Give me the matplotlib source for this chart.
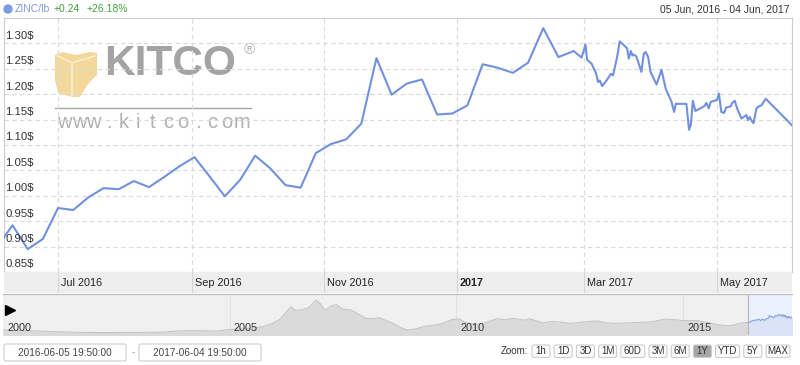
import numpy as np
import pandas as pd
import matplotlib
matplotlib.use("Agg")
import matplotlib.pyplot as plt
import matplotlib.transforms as mtransforms
from matplotlib.patches import Polygon, Circle, FancyBboxPatch
from matplotlib.lines import Line2D

plt.rcParams['font.family'] = ['Liberation Sans', 'DejaVu Sans']

# zinc price, USD/lb (weekly until late Feb 2017, then daily)
zinc_dates = [
    '2016-06-03', '2016-06-10', '2016-06-17', '2016-06-24', '2016-07-01', '2016-07-08',
    '2016-07-15', '2016-07-22', '2016-07-29', '2016-08-05', '2016-08-12', '2016-08-19',
    '2016-08-26', '2016-09-02', '2016-09-09', '2016-09-16', '2016-09-23', '2016-09-30',
    '2016-10-07', '2016-10-14', '2016-10-21', '2016-10-28', '2016-11-04', '2016-11-11',
    '2016-11-18', '2016-11-25', '2016-12-02', '2016-12-09', '2016-12-16', '2016-12-23',
    '2016-12-30', '2017-01-06', '2017-01-13', '2017-01-20', '2017-01-27', '2017-02-03',
    '2017-02-10', '2017-02-17', '2017-02-24',
    '2017-02-27 17:00', '2017-03-01 12:00', '2017-03-02 05:00', '2017-03-04 07:00',
    '2017-03-06 07:00', '2017-03-07 07:00', '2017-03-08 02:00', '2017-03-09 05:00',
    '2017-03-11 05:00', '2017-03-13 05:00', '2017-03-14 05:00', '2017-03-16 02:00',
    '2017-03-17 07:00', '2017-03-19 14:00', '2017-03-20 17:00', '2017-03-21 12:00',
    '2017-03-22 10:00', '2017-03-23 05:00', '2017-03-23 22:00', '2017-03-25 00:00',
    '2017-03-26 02:00', '2017-03-27 07:00', '2017-03-28 10:00', '2017-03-29 07:00',
    '2017-03-30 10:00', '2017-03-31 12:00', '2017-04-03 07:00', '2017-04-05 14:00',
    '2017-04-07 12:00', '2017-04-10 05:00', '2017-04-11 10:00', '2017-04-12 05:00',
    '2017-04-17 02:00', '2017-04-18 07:00', '2017-04-19 02:00', '2017-04-20 02:00',
    '2017-04-21 05:00', '2017-04-23 12:00', '2017-04-25 12:00', '2017-04-26 07:00',
    '2017-04-27 10:00', '2017-04-28 07:00', '2017-04-30 02:00', '2017-05-01 05:00',
    '2017-05-02 02:00', '2017-05-03 05:00', '2017-05-04 10:00', '2017-05-05 12:00',
    '2017-05-07 12:00', '2017-05-08 07:00', '2017-05-09 10:00', '2017-05-10 10:00',
    '2017-05-12 12:00', '2017-05-14 19:00', '2017-05-15 12:00', '2017-05-16 07:00',
    '2017-05-17 07:00', '2017-05-18 02:00', '2017-05-19 10:00', '2017-05-20 02:00',
    '2017-05-21 17:00', '2017-05-23 17:00', '2017-06-04 19:00',
]
zinc_prices = [
    0.900, 0.942, 0.895, 0.915, 0.976, 0.972,
    0.997, 1.015, 1.013, 1.029, 1.017, 1.037,
    1.058, 1.076, 1.038, 0.999, 1.031, 1.079,
    1.054, 1.021, 1.016, 1.084, 1.102, 1.111,
    1.142, 1.271, 1.199, 1.221, 1.229, 1.160,
    1.162, 1.178, 1.259, 1.252, 1.242, 1.262,
    1.330, 1.273, 1.285,
    1.272, 1.298, 1.268, 1.260,
    1.242, 1.224, 1.227, 1.216,
    1.227, 1.240, 1.237, 1.273,
    1.304, 1.295, 1.290, 1.270,
    1.285, 1.276, 1.278, 1.274,
    1.260, 1.244, 1.280, 1.283,
    1.273, 1.244, 1.219, 1.248,
    1.211, 1.185, 1.165, 1.181,
    1.181, 1.130, 1.139, 1.187,
    1.167, 1.172, 1.177, 1.183,
    1.172, 1.185, 1.187, 1.189,
    1.201, 1.165, 1.163, 1.174,
    1.176, 1.183, 1.187, 1.173,
    1.152, 1.159, 1.149, 1.155,
    1.147, 1.143, 1.172, 1.175,
    1.178, 1.191, 1.139,
]

y_ticks = [0.85, 0.90, 0.95, 1.00, 1.05, 1.10, 1.15, 1.20, 1.25, 1.30]
x_ticks = ['2016-07-01', '2016-09-01', '2016-11-01', '2017-01-01', '2017-03-01', '2017-05-01']
x_labels = ['Jul 2016', 'Sep 2016', 'Nov 2016', '2017', 'Mar 2017', 'May 2017']
range_start = '2016-06-05 19:50'
range_end = '2017-06-04 19:50'

# long-term history shown in the navigator (decimal years, USD/lb)
nav_years = [2000.0, 2000.5, 2001.0, 2001.5, 2002.0, 2002.5, 2003.0, 2003.5, 2003.9, 2004.3,
             2004.7, 2005.0, 2005.4, 2005.7, 2005.9, 2006.1, 2006.25, 2006.35, 2006.45, 2006.6,
             2006.75, 2006.9, 2007.0, 2007.1, 2007.25, 2007.35, 2007.5, 2007.65, 2007.8, 2008.0,
             2008.15, 2008.3, 2008.45, 2008.6, 2008.75, 2008.9, 2009.1, 2009.3, 2009.5, 2009.7,
             2009.9, 2010.05, 2010.2, 2010.4, 2010.55, 2010.75, 2010.9, 2011.1, 2011.25, 2011.5,
             2011.6, 2011.75, 2011.9, 2012.1, 2012.3, 2012.5, 2012.7, 2012.9, 2013.1, 2013.3,
             2013.5, 2013.8, 2014.0, 2014.3, 2014.6, 2014.8, 2015.0, 2015.3, 2015.5, 2015.7,
             2015.95, 2016.1, 2016.3, 2016.43]
nav_prices = [0.50, 0.47, 0.42, 0.38, 0.36, 0.36, 0.37, 0.38, 0.45, 0.46,
              0.44, 0.52, 0.58, 0.66, 0.80, 1.05, 1.45, 1.73, 1.55, 1.58,
              1.70, 2.10, 1.90, 1.55, 1.80, 1.85, 1.60, 1.58, 1.40, 1.12,
              1.10, 1.15, 1.00, 0.85, 0.65, 0.50, 0.55, 0.70, 0.75, 0.85,
              1.05, 1.10, 0.90, 0.80, 0.82, 0.98, 1.10, 1.05, 1.12, 1.02,
              1.10, 1.00, 0.88, 0.95, 0.92, 0.85, 0.90, 0.95, 0.98, 0.88,
              0.85, 0.88, 0.90, 0.93, 1.08, 1.05, 1.00, 1.00, 0.92, 0.80,
              0.72, 0.75, 0.88, 0.90]
nav_ticks = [2000, 2005, 2010, 2015]

zoom_buttons = ['1h', '1D', '3D', '1M', '60D', '3M', '6M', '1Y', 'YTD', '5Y', 'MAX']
active_button = '1Y'

W, H = 800, 365
fig = plt.figure(figsize=(8, 3.65), dpi=100)
# pixel coordinates, origin top-left
px = mtransforms.Affine2D().scale(1 / W, -1 / H).translate(0, 1) + fig.transFigure

line_color = '#7191df'
grid_color = '#dadada'
text_color = '#333333'

dates = pd.to_datetime(zinc_dates, format='mixed')
x0, x1 = pd.Timestamp(range_start), pd.Timestamp(range_end)

# main chart
ax = fig.add_axes([3.5 / W, 1 - 272 / H, (792 - 3.5) / W, (272 - 18) / H])
ax.plot(dates, zinc_prices, color=line_color, lw=1.5, solid_joinstyle='round', zorder=5)
ax.set_xlim(x0, x1)
ax.set_ylim(0.85, 1.35)
ax.set_yticks(y_ticks)
ax.set_xticks(pd.to_datetime(x_ticks))
ax.grid(True, color=grid_color, linestyle=(0, (4, 3)), linewidth=0.8)
ax.tick_params(length=0, labelleft=False, labelbottom=False)
for s in ax.spines.values():
    s.set_color('#cccccc')
    s.set_linewidth(0.8)

ytrans = mtransforms.offset_copy(ax.get_yaxis_transform(), fig=fig, x=2, y=2.5, units='dots')
for v in y_ticks:
    ax.text(0, v, f'{v:.2f}$', transform=ytrans, ha='left', va='bottom',
            fontsize=8.2, color=text_color, zorder=6)

# kitco watermark
logo = Polygon([(55, 55), (63, 52), (76, 55), (90, 52), (97, 53), (97, 75), (88, 84),
                (80, 97), (72, 97), (58, 93), (55, 80)], closed=True,
               facecolor='#f3d89c', edgecolor='none', transform=px, zorder=1)
ax.add_patch(logo)
ax.add_line(Line2D([58, 72, 95], [56, 63, 56], color='#fbeccb', lw=1.2, transform=px, zorder=1))
ax.add_line(Line2D([72, 72], [63, 96], color='#fbeccb', lw=1.2, transform=px, zorder=1))
ax.text(104, 64, 'KITCO', transform=px, fontsize=30.5, fontweight='bold', color='#a4a4a4',
        ha='left', va='center', zorder=1)
ax.text(249, 50, '®', transform=px, fontsize=11, color='#b4b4b4', ha='center', va='center', zorder=1)
ax.add_line(Line2D([55, 251], [108, 108], color='#a8a8a8', lw=1, transform=px, zorder=1))
for ch, cx in zip('www.kitco.com', np.linspace(64, 242, 13)):
    ax.text(cx, 123, ch, transform=px, fontsize=14.5, color='#b0b0b0', ha='center', va='center', zorder=1)

# x-axis band
axb = fig.add_axes([3.5 / W, 1 - 293 / H, (792 - 3.5) / W, 21 / H], sharex=ax)
axb.set_facecolor('#eeeeee')
axb.set_ylim(0, 1)
axb.tick_params(length=0, labelleft=False, labelbottom=False)
for s in axb.spines.values():
    s.set_visible(False)
xtrans = mtransforms.offset_copy(axb.get_xaxis_transform(), fig=fig, x=3, y=0, units='dots')
for t, lab in zip(pd.to_datetime(x_ticks), x_labels):
    axb.axvline(t, color='#d6d6d6', lw=0.8)
    axb.text(t, 0.5, lab, transform=xtrans, ha='left', va='center', fontsize=7.8,
             color='#222222', fontweight='bold' if lab == '2017' else 'normal')

# navigator
axn = fig.add_axes([3 / W, 1 - 335 / H, (792 - 3) / W, 41 / H])
axn.set_facecolor('#f0f0f0')
axn.set_xlim(2000.0, 2017.4)
axn.set_ylim(0.23, 2.42)
for y in nav_ticks[1:]:
    axn.axvline(y, color='#e2e2e2', lw=0.8, zorder=0)
axn.fill_between(nav_years, nav_prices, 0, color='#dadada', lw=0)
axn.plot(nav_years, nav_prices, color='#c6c6c6', lw=0.8)
dec = np.asarray(dates.year + (dates.dayofyear - 1 + dates.hour / 24) / 365.25)
sel = 2016 + (x0.dayofyear - 1) / 366
axn.axvspan(sel, 2017.4, color='#eaf0fc', lw=0, zorder=1)
axn.fill_between(dec, zinc_prices, 0, color='#dbe3f6', lw=0, zorder=2)
axn.plot(dec, zinc_prices, color='#8fa6e3', lw=0.9, zorder=3)
axn.axvline(sel, color='#b8b8b8', lw=0.8, zorder=4)
axn.tick_params(length=0, labelleft=False, labelbottom=False)
for k, s in axn.spines.items():
    s.set_visible(k == 'top')
axn.spines['top'].set_color('#b9b9b9')
ntrans = mtransforms.offset_copy(axn.get_xaxis_transform(), fig=fig, x=4, y=2, units='dots')
for y in nav_ticks:
    axn.text(y, 0, str(y), transform=ntrans, ha='left', va='bottom', fontsize=7.8, color=text_color)
fig.add_artist(Line2D([10], [310], marker='>', ms=7, color='black', transform=px))

# header
fig.add_artist(Circle((8, 9), 4, transform=px, color='#7c9ce2'))
fig.text(15, 9, 'ZINC/lb', transform=px, fontsize=7.5, color='#7f9be0', va='center')
fig.text(54, 9, '+0.24', transform=px, fontsize=7.5, color='#3fa53f', va='center')
fig.text(87, 9, '+26.18%', transform=px, fontsize=7.5, color='#3fa53f', va='center')
fig.text(789, 9, '05 Jun, 2016 - 04 Jun, 2017', transform=px, fontsize=7.5, color=text_color,
         va='center', ha='right')

# date inputs
for bx, label in [(4, x0), (139, x1)]:
    fig.add_artist(FancyBboxPatch((bx, 344), 122, 17, boxstyle='round,pad=0,rounding_size=2',
                                  transform=px, facecolor='white', edgecolor='#cccccc', lw=0.8))
    fig.text(bx + 61, 352.5, label.strftime('%Y-%m-%d %H:%M:%S'), transform=px, fontsize=7.2,
             color='#444444', ha='center', va='center')
fig.text(133, 352.5, '-', transform=px, fontsize=7, color='#999999', ha='center', va='center')

# zoom buttons
fig.text(528, 351.5, 'Zoom:', transform=px, fontsize=7, color=text_color, ha='right', va='center')
bx = 532
for b in zoom_buttons:
    w = 18 if len(b) < 3 else 24
    fc = '#a6a6a6' if b == active_button else '#fbfbfb'
    fig.add_artist(FancyBboxPatch((bx, 345), w, 12.5, boxstyle='round,pad=0,rounding_size=2',
                                  transform=px, facecolor=fc, edgecolor='#cccccc', lw=0.8))
    fig.text(bx + w / 2, 351.5, b, transform=px, fontsize=7, color=text_color,
             ha='center', va='center')
    bx += w + 4.2

fig.savefig('out.png', dpi=100)
